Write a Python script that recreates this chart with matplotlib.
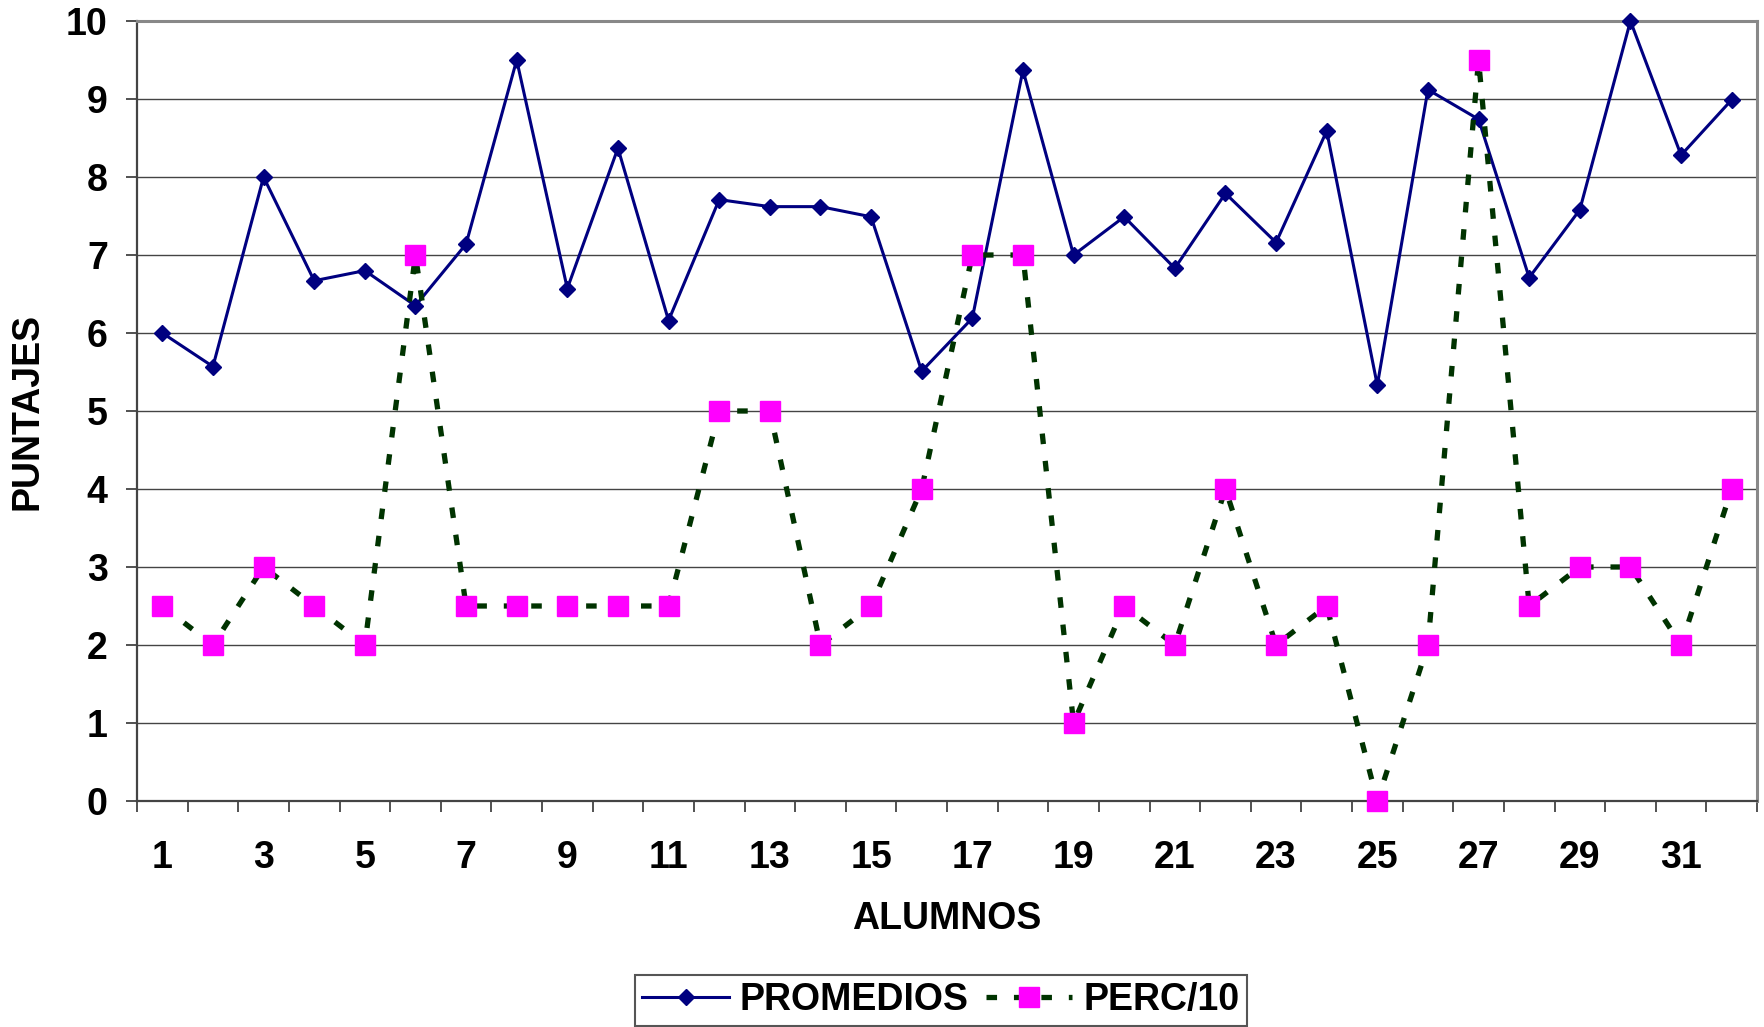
#!/usr/bin/env python3
"""Promedios vs percentil/10 por alumno (line chart, Excel style)."""

import numpy as np
import matplotlib
matplotlib.use("Agg")
import matplotlib.pyplot as plt

alumnos = list(range(1, 33))
promedios = [6.0, 5.57, 8.0, 6.67, 6.8, 6.35, 7.14, 9.5, 6.57, 8.37,
             6.16, 7.71, 7.62, 7.62, 7.49, 5.51, 6.19, 9.37, 7.0, 7.49,
             6.83, 7.79, 7.16, 8.59, 5.33, 9.12, 8.74, 6.71, 7.58, 10.0,
             8.28, 8.99]
perc10 = [2.5, 2.0, 3.0, 2.5, 2.0, 7.0, 2.5, 2.5, 2.5, 2.5,
          2.5, 5.0, 5.0, 2.0, 2.5, 4.0, 7.0, 7.0, 1.0, 2.5,
          2.0, 4.0, 2.0, 2.5, 0.0, 2.0, 9.5, 2.5, 3.0, 3.0,
          2.0, 4.0]
xtick_labels = [str(a) for a in alumnos if a % 2 == 1]

FS = 27
plt.rcParams.update({
    "font.family": ["Liberation Sans", "DejaVu Sans"],
    "font.weight": "bold",
    "font.size": FS,
})

W, H = 1764, 1027
fig = plt.figure(figsize=(W / 100, H / 100), dpi=100)
ax = fig.add_axes([137 / W, 1 - 801 / H, (1757 - 137) / W, (801 - 21) / H])

ax.plot(alumnos, promedios, color="#000080", linewidth=2.2, marker="D",
        markersize=8.5, label="PROMEDIOS", clip_on=False, zorder=3)
ax.plot(alumnos, perc10, color="#003300", linewidth=3.8,
        linestyle=(0, (2.0, 3.2)), marker="s", markersize=15,
        markerfacecolor="#ff00ff", markeredgecolor="#ff00ff",
        label="PERC/10", clip_on=False, zorder=4)

ax.set_xlim(0.5, 32.5)
ax.set_ylim(0, 10)

# category ticks between columns, labels on odd alumnos
ax.set_xticks(np.arange(0.5, 33, 1.0))
ax.set_xticklabels([])
ax.set_xticks([a for a in alumnos if a % 2 == 1], minor=True)
ax.set_xticklabels(xtick_labels, minor=True)
ax.tick_params(axis="x", which="major", direction="out", length=8,
               width=1.2, color="#333333")
ax.tick_params(axis="x", which="minor", length=0, pad=28, labelsize=FS)
ax.set_yticks(range(0, 11))
ax.tick_params(axis="y", direction="out", length=8, width=1.2,
               color="#333333", pad=13, labelsize=FS)

ax.yaxis.grid(True, color="#444444", linewidth=1.0)
ax.set_axisbelow(True)

for side in ["left", "bottom"]:
    ax.spines[side].set_color("#444444")
    ax.spines[side].set_linewidth(1.6)
for side in ["top", "right"]:
    ax.spines[side].set_color("#888888")
    ax.spines[side].set_linewidth(2.2)

ax.set_xlabel("ALUMNOS", fontsize=FS, fontweight="bold", va="center")
ax.xaxis.set_label_coords(0.5, -(919 - 801) / 780)
ax.set_ylabel("PUNTAJES", fontsize=FS, fontweight="bold", va="center")
ax.yaxis.set_label_coords(-(137 - 28) / 1620, 0.5)

leg = ax.legend(loc="center", bbox_to_anchor=(941 / W, 1 - 1000 / H),
                bbox_transform=fig.transFigure, ncol=2, frameon=True,
                fancybox=False, edgecolor="#555555", framealpha=1,
                handlelength=2.3, handletextpad=0.3, columnspacing=0.45,
                borderpad=0.2, prop={"size": FS, "weight": "bold"})
leg.get_frame().set_linewidth(1.5)

fig.savefig("out.png", dpi=100)
